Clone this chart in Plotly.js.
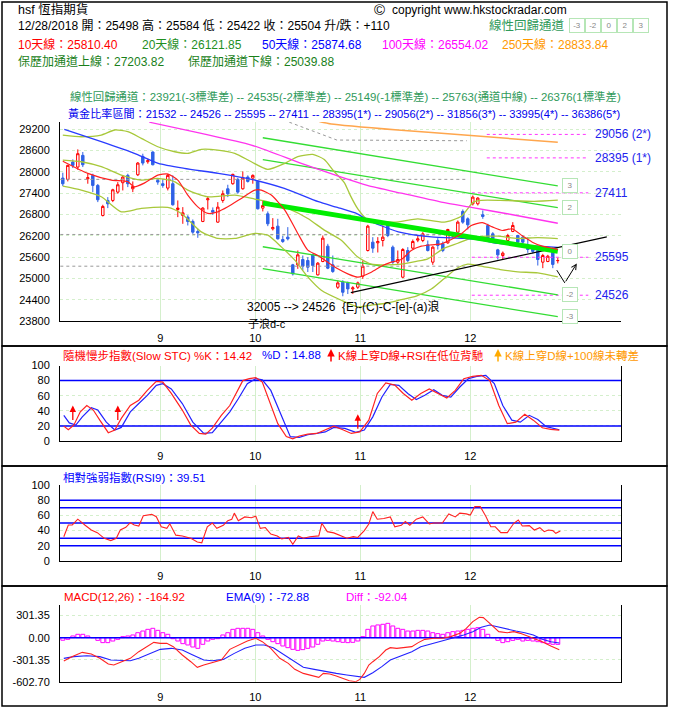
<!DOCTYPE html>
<html><head><meta charset="utf-8">
<script src="https://cdn.plot.ly/plotly-3.0.1.min.js"></script>
<style>html,body{margin:0;padding:0;background:#fff;} #chart{width:677px;height:717px;}</style>
</head><body><div id="chart"></div>
<script>
const FONT = "Liberation Sans, 'Noto Sans CJK TC', sans-serif";

// ---------- trading days (Aug 6 - Dec 28, 2018) ----------
const tradeDates = ['8/6','8/7','8/8','8/9','8/10','8/13','8/14','8/15','8/16','8/17','8/20','8/21','8/22','8/23','8/24','8/27','8/28','8/29','8/30','8/31',
'9/3','9/4','9/5','9/6','9/7','9/10','9/11','9/12','9/13','9/14','9/17','9/18','9/19','9/20','9/21','9/24','9/26','9/27','9/28',
'10/2','10/3','10/4','10/5','10/8','10/9','10/10','10/11','10/12','10/15','10/16','10/18','10/19','10/22','10/23','10/24','10/25','10/26','10/29','10/30','10/31',
'11/1','11/2','11/5','11/6','11/7','11/8','11/9','11/12','11/13','11/14','11/15','11/16','11/19','11/20','11/21','11/22','11/23','11/26','11/27','11/28','11/29','11/30',
'12/3','12/4','12/5','12/6','12/7','12/10','12/11','12/12','12/13','12/14','12/17','12/18','12/19','12/20','12/21','12/24','12/27','12/28'];

// ---------- OHLC ----------
const opens  = [27826,27789,28278,28137,28466,27808,27902,27619,26773,27196,27196,27431,27695,27902,27525,27920,28438,28287,28560,27761,
27667,27544,27667,26942,26773,26726,26604,26322,26604,27215,26914,26585,27196,27525,27667,27789,27525,27855,27826,27732,
26980,26820,26397,26472,26096,26162,25382,25382,25532,25504,25664,25100,25476,25908,25382,24751,24893,24874,24704,24751,
25062,25786,26021,26002,26068,26538,25880,25457,25034,25786,25852,26077,26068,25946,25457,26068,25974,26002,26190,26303,
26886,26679,27102,27102,26792,26491,26256,25805,25645,26068,26322,26209,26162,25880,25850,25786,25457,25476,25786,25498];
const highs  = [27977,28200,28353,28635,28560,27949,27949,27660,27074,27290,27525,27713,27902,27949,27732,28278,28513,28372,28580,27826,
27789,27949,27902,27196,27008,26780,26660,26397,27008,27318,27000,27149,27478,27638,27949,27830,28014,27902,27930,27760,
27196,26886,26698,26679,26200,26444,25410,25786,25645,25600,25700,25460,26209,25974,25645,24940,24950,24910,24780,24910,
25504,26510,26162,26162,26491,26604,25927,25786,25852,25880,26096,26200,26303,26068,25908,26134,26040,26397,26256,26632,
26942,26720,27337,27290,26914,26538,26303,25833,25758,26256,26585,26228,26209,26162,25920,25833,25692,25664,25880,25584];
const lows   = [27601,27732,28108,28061,28137,27667,27431,27149,26745,26980,27149,27384,27478,27572,27431,27883,28184,28231,28184,27638,
27554,27478,27050,26726,26538,26491,26256,26143,26585,26942,26792,26566,27130,27290,27640,27384,27500,27700,27667,26942,
26886,26472,26350,26096,26000,26070,25081,25269,25222,25180,25180,25081,25457,25260,25156,24704,24497,24560,24560,24704,
24987,25758,25720,25730,25900,26162,25410,25410,25006,25457,25814,26021,26021,25758,25382,25814,25739,25974,26150,26284,
26538,26378,27055,27055,26679,26068,26068,25532,25532,26021,26303,25974,25927,25720,25700,25363,25288,25457,25288,25422];
const closes = [27666,28184,28184,28513,28202,27836,27619,27215,27027,27102,27497,27638,27855,27667,27591,28249,28249,28315,28202,27714,
27619,27902,27074,26980,26848,26604,26303,26284,26980,27243,26867,27008,27384,27384,27930,27431,27826,27732,27902,26961,
27055,26538,26435,26115,26040,26115,25128,25664,25344,25316,25363,25429,26134,25288,25194,24874,24610,24704,24733,24874,
25344,26472,25852,26040,26162,26209,25457,25532,25814,25504,26040,26115,26256,25786,25880,25927,25786,26378,26228,26585,
26585,26510,27290,27262,26745,26115,26115,25664,25711,26209,26491,26021,26021,25814,25760,25532,25645,25626,25394,25504];
const netChange = '+110';

// ---------- header readings ----------
const maLabels = ['10天線','20天線','50天線','100天線','250天線'];
const maLast = ['25810.40','26121.85','25874.68','26554.02','28833.84'];
const bbLast = ['27203.82','25039.88'];
const regText = '線性回歸通道：23921(-3標準差) -- 24535(-2標準差) -- 25149(-1標準差) -- 25763(通道中線) -- 26376(1標準差)';
const goldText = '黃金比率區間：21532 -- 24526 -- 25595 -- 27411 -- 28395(1*) -- 29056(2*) -- 31856(3*) -- 33995(4*) -- 36386(5*)';

// ---------- moving averages (x = trading-day position) ----------
const ma10X = [0,5,9.7,13,14.3,16.3,19,21,23,25,27,29,31,33,35.7,38.4,39.7,41.7,44.4,47,49,51,53,55,57,59,61.7,63.7,65.7,67.7,69.7,71.7,73.7,75.7,77.7,79.7,81.7,83.9,85.9,87.9,89.9,91.9,93.9,95.9,97.9,99];
const ma10Y = [28300,27958,27770,27722,27581,27685,27911,27939,27770,27347,27016,26830,26876,27016,27253,27488,27488,27347,26924,26266,25795,25645,25457,25269,25128,25034,25175,25344,25457,25532,25786,25908,25946,25974,26096,26256,26491,26570,26450,26350,26397,26200,26021,25908,25852,25810];
const ma50X = [0.3,7.7,14.3,19.1,24.3,31.1,37.7,44.3,51.1,54.9,58.9,60.9,67.1,73.7,80.3,83.7,87.1,91.1,95.1,99];
const ma50Y = [29200,28850,28523,28241,28100,27959,27790,27536,27160,27000,26820,26650,26312,26170,26125,26077,25984,25936,25908,25875];
const ma100X = [17.3,27.7,37.7,47.7,55.7,60.9,67.7,75.7,81.7,89.7,99];
const ma100Y = [29400,29087,28757,28241,27850,27620,27400,27150,27000,26800,26554];
const ma250X = [51.3,53.7,67,80.3,99];
const ma250Y = [29420,29350,29180,29040,28834];

// ---------- Bollinger bands ----------
const bbUpX = [0,3.7,7.7,10.4,13,15.7,19,22.4,25,27.7,31,34.4,37.7,41,44.4,47,50,52.3,54.3,56.3,57.5,59,61,66.3,71,76.3,79.7,82.1,83.7,87.5,94.3,99];
const bbUpY = [29039,28991,29039,29180,29132,28946,28709,28568,28523,28636,28616,28523,28286,28072,28241,28430,28494,28350,28004,27700,27338,26958,26650,26585,26678,26585,26750,27150,27200,27200,27170,27204];
const bbMidX = [0,3.7,7.7,11.7,15.7,19,22.4,25,29,34.4,38.4,41,45,49,52.3,55.7,59,61.7,64.7,67.7,70.7,73,76.3,79,82,85,87,91,95,99];
const bbMidY = [28334,28286,28146,27911,27770,27817,27722,27488,27299,27347,27234,27158,26971,26689,26359,26077,25600,25400,25380,25400,25480,25550,25852,25990,26150,26190,26190,26125,26150,26122];
const bbLoX = [0,3.7,7.7,11.7,15.7,21,23.7,27.7,31,34.4,38.4,41,43.7,46.4,49,51.7,55.7,59,61.7,64.7,67.7,70.7,73.7,76.3,79,81,83,87.5,91,95,99];
const bbLoY = [27600,27488,27299,26876,26971,27000,26830,26311,26125,26125,26266,26218,25888,25513,25042,24667,24385,24200,24250,24300,24400,24500,24700,25000,25300,25400,25363,25250,25184,25155,25040];

// ---------- linear regression channel ----------
const chanX = [40, 99];
const chanMid = [27120, 25763];
const chanStd = 614;
const chanBands = [3, 2, -2, -3];
const chanEnds = [3, 2, 0, -2, -3];
const chanBoxText = ['3','2','0','-2','-3'];

// ---------- golden ratio levels ----------
const goldVals = [29056, 28395, 27411, 25595, 24526];
const goldLabels = ['29056 (2*)','28395 (1*)','27411','25595','24526'];
const goldStart = [84.8, 84.8, 81.8, 81.8, 81.8];
const goldEnd = 105.1;

// ---------- other guide lines ----------
const greyLevels = [27790, 26238, 25344];
const greyLevelX = [-0.5, 80.8];
const greyDiagX = [45.3, 54.8, 80.8];
const greyDiagY = [29400, 28898, 28878];
const trendX = [57.6, 108.8];
const trendY = [24600, 26170];
const vX = [98.8, 100.4, 102.8];
const vY = [25232, 24873, 25420];

// ---------- slow stochastic ----------
const kX = [0.2,1.1,2.2,3.5,4.8,6.1,7.4,9.1,10.4,11.7,13.5,15.2,16.9,18.7,20,21.7,23.9,25.6,27.3,28.6,29.9,31.7,33.4,34.7,36,37.3,38.6,39.9,41.2,43,44.7,46,47.3,49,50.8,52.5,54.2,56,57.7,59.4,61.2,62.9,64.6,66.4,68.1,69.8,71.6,73.3,75,76.8,78.5,80.2,82,83.7,85.4,87.2,88.9,90.6,92.4,94.1,95.9,97.6,99.3];
const kY = [19.7,15,21,38.6,47,41,27.6,11,14.5,30,47,54,67,79,78,63,41,21,10,9,17,34,47,63,80,82.5,84,78,54,23,6,3,6.6,9,10,14.5,19.7,15,10,12,27.6,63,77,74,63,54,63,69,63,57,67,82.5,85.5,87,80,47,23,25,35.5,27.6,17.5,15.4,14.42];
const dX = [0.2,1.3,2.6,3.9,5.7,7,8.7,10.4,11.7,13.5,15.2,16.9,18.7,20,21.7,23.9,26,28.2,29.9,31.7,33.4,35.1,36.9,38.6,39.9,41.6,43.8,45.5,47.3,49,50.8,52.5,54.2,56.4,58.6,60.3,62,63.8,65.5,67.2,69,70.7,72.4,74.2,75.9,77.6,79.4,81.1,82.8,84.6,86.3,88,89.8,91.5,93.3,95,96.7,99.3];
const dY = [34,24,21,32,44,41,25,14.5,18,38.6,49.6,60.5,73.7,76,69,49.6,25,10,11,25,38.6,56,76,82.5,81,67,32,5.7,4.8,8.3,10,12,18,16.7,11.4,14.5,32,58,75,73.7,63,55,60.5,68,60.5,58,71.5,82.5,85.5,87,76,47,27.6,25,34,28.5,19,14.88];
const stochArrowX = [2, 11, 59];
const stochArrowHead = [47, 47, 35.5];
const stochLevels = [20, 80];

// ---------- RSI(9) ----------
const rsiX = [0.2,1.1,1.9,3,4.4,5.7,6.9,8.3,9.6,10.7,11.5,12.6,13.5,14.3,15.2,16.1,17.8,18.7,19.7,20.8,21.4,22.6,23.9,25.6,26.9,27.8,28.9,29.9,30.8,32.1,33,33.8,34.3,35.1,36.4,37.7,38.6,39.5,40.5,41.6,42.9,43.8,45.1,46,47.1,48.1,49.4,51.2,51.8,52.9,54.2,55.5,56.8,58.1,59,60.3,61.2,62,62.9,64.2,65.5,66.4,67.7,68.5,69.4,70.7,72,73.3,74.2,75.9,77.2,78.5,79.4,80.7,81.5,82.4,83.5,84.6,85.6,86.5,87.6,88.9,90.2,91.1,91.9,93.3,94.3,95.4,96.3,97.1,98,98.6,99.5];
const rsiY = [32,47.4,47.4,55,47.4,40.8,37.3,29.8,26.8,29.8,40.8,44.3,50.4,47.4,46,59.6,61.4,58.3,45,43,49,34,33,30,25,24,45,50,43,47,53,55,63,53,58,57,59,43,44,35.5,33,29,31,22,33,30,32,33,49.6,38.6,37,33,30,32,31,40,48.7,65,55,56,58,45,47,52,47,55,58,48.7,50,50,62,58,63,62,60.5,71.5,71.5,59,45,45,37.3,37.3,49.6,54,46,46.5,40.8,43.9,38.6,40.8,40,36.4,39.51];
const rsiLevels = [20, 30, 50, 70, 80];

// ---------- MACD ----------
const macdX = [0.2,1.8,3.9,5.7,7.4,9.1,10.2,11.7,13.5,15.2,16.9,18.2,19.5,20.8,22.1,23.9,25.6,26.9,28.2,29.9,31.7,33.4,35.1,36.9,38.6,39.9,41.6,43.4,45.1,46.4,48.1,49.9,51.2,52.1,53.4,54.7,56,57.3,58.6,59.4,60.3,61.2,62,63.3,64.6,65.5,66.8,68.5,69.8,71.1,72.4,74.2,75.9,77.6,79.4,80.7,82,83.3,84.1,85.4,87.2,88.9,90.2,91.5,92.8,94.1,95.9,97.6,99.3];
const macdY = [-320,-260,-201,-224,-283,-361,-374,-329,-283,-192,-114,-64,-78,-78,-123,-237,-329,-406,-374,-342,-306,-160,-100,-46,-9,-55,-146,-283,-352,-434,-489,-525,-543,-489,-498,-525,-557,-589,-603,-571,-489,-374,-329,-260,-169,-137,-146,-137,-123,-68,-23,-9,-9,14,59,128,219,279,274,196,82,68,82,59,27,-9,-55,-114,-164.92];
const emaX = [0.2,2.2,4.8,7.4,9.6,11.7,13.5,15.2,17.4,19.5,21.7,23.9,26,28.2,29.9,32.1,34.3,36.4,38.6,40.3,42.1,43.8,46,48.1,50.3,52.5,54.7,56.8,59,60.3,62,63.8,65.5,67.7,69.8,71.6,73.3,75,76.8,78.5,80.2,82,83.7,85.4,87.2,88.9,90.6,92.4,94.1,95.9,97.6,99.3];
const emaY = [-283,-260,-247,-260,-306,-315,-315,-283,-215,-160,-146,-169,-237,-306,-315,-297,-215,-146,-100,-100,-137,-215,-315,-406,-434,-466,-489,-511,-534,-543,-479,-397,-306,-247,-192,-123,-91,-68,-32,5,37,82,142,174,142,114,91,68,37,-23,-55,-72.88];
const diffY = [-35,-23,23,46,46,23,0,-37,-68,-68,-46,-23,14,23,37,68,91,114,128,100,
68,46,-14,-46,-82,-100,-128,-146,-91,-46,-23,-14,37,68,114,128,128,128,114,68,
23,-23,-55,-82,-114,-137,-160,-174,-164,-146,-128,-91,-46,-37,-46,-55,-64,-68,-64,-46,
14,114,160,174,183,196,160,128,114,91,91,100,100,91,68,55,46,68,82,91,
100,114,128,137,114,46,0,-37,-68,-55,-37,-23,-46,-37,-46,-55,-68,-82,-91,-92.04];

// ---------- derived positions ----------
const dayPos = tradeDates.map((d, i) => i);
const monthTickPos = [], monthTickText = [];
tradeDates.forEach((d, i) => {
  if (i > 0 && d.split('/')[0] !== tradeDates[i-1].split('/')[0]) {
    monthTickPos.push(i - 0.5); monthTickText.push(d.split('/')[0]);
  }
});
const lastIdx = dayPos[dayPos.length - 1];

const W = 677, H = 717;
const px = x => x / W, py = y => 1 - y / H;
const xDom = [px(60), px(621)];
const xRange = [-0.56, 111.64];
const GRID = '#d4efcc';

function xa(anchor, standoff) {
  return {domain: xDom, range: xRange, anchor: anchor, tickmode: 'array', tickvals: monthTickPos, ticktext: monthTickText,
    showgrid: true, gridcolor: GRID, gridwidth: 1, showline: true, linecolor: '#000', linewidth: 1,
    zeroline: false, ticks: '', ticklabelstandoff: standoff, tickfont: {family: FONT, size: 11, color: '#000'},
    fixedrange: true, rangeslider: {visible: false}};
}
function ya(anchor, dom, range, tv, tt, mirror) {
  const o = {domain: dom, range: range, anchor: anchor, tickmode: 'array', tickvals: tv, tickformat: 'd',
    showgrid: true, gridcolor: GRID, griddash: 'dot', gridwidth: 1, showline: true, linecolor: '#000', linewidth: 1,
    mirror: mirror, zeroline: false, ticks: '', ticklabelstandoff: 7, tickfont: {family: FONT, size: 11, color: '#000'},
    fixedrange: true};
  if (tt) o.ticktext = tt; else o.ticktext = tv.map(v => String(v));
  return o;
}

const traces = [];
function line(x, y, color, width, dash, xa_, ya_, shape) {
  traces.push({type: 'scatter', mode: 'lines', x: x, y: y, xaxis: xa_ || 'x', yaxis: ya_ || 'y',
    line: {color: color, width: width, dash: dash || 'solid', shape: shape || 'linear', smoothing: 0.6},
    hoverinfo: 'skip', showlegend: false, cliponaxis: true});
}

// main panel guides
greyLevels.forEach(v => line(greyLevelX, [v, v], '#999999', 1, 'dot'));
line(greyDiagX, greyDiagY, '#999999', 1, 'dot');
goldVals.forEach((v, k) => line([goldStart[k], goldEnd], [v, v], '#ff33ff', 1, 'dot'));
chanBands.forEach(b => line(chanX, chanMid.map(m => m + b * chanStd), '#33dd33', 1.3));
line(bbUpX, bbUpY, '#a8c83a', 1.3, 'solid', 'x', 'y', 'spline');
line(bbMidX, bbMidY, '#a8c83a', 1.3, 'solid', 'x', 'y', 'spline');
line(bbLoX, bbLoY, '#a8c83a', 1.3, 'solid', 'x', 'y', 'spline');
line(ma250X, ma250Y, '#ffa64d', 1.5, 'solid', 'x', 'y', 'spline');
line(ma100X, ma100Y, '#ff33ee', 1.3, 'solid', 'x', 'y', 'spline');
line(ma50X, ma50Y, '#2a3cff', 1.3, 'solid', 'x', 'y', 'spline');
line(trendX, trendY, '#000000', 1.2);
line(vX.slice(0, 2), vY.slice(0, 2), '#000000', 1);
line(chanX, chanMid, '#00ee00', 5);
traces.push({type: 'candlestick', x: dayPos, open: opens, high: highs, low: lows, close: closes,
  xaxis: 'x', yaxis: 'y', whiskerwidth: 0,
  increasing: {line: {color: '#ff0000', width: 1}, fillcolor: '#ffffff'},
  decreasing: {line: {color: '#2f62e6', width: 1}, fillcolor: '#2f62e6'},
  hoverinfo: 'skip', showlegend: false});
line(ma10X, ma10Y, '#ff2020', 1.2, 'solid', 'x', 'y', 'spline');

// stochastic panel
stochLevels.forEach(v => line(xRange, [v, v], '#0000ff', 1.5, 'solid', 'x2', 'y2'));
line(dX, dY, '#2222ff', 1.2, 'solid', 'x2', 'y2');
line(kX, kY, '#ff2222', 1.2, 'solid', 'x2', 'y2');

// RSI panel
rsiLevels.forEach(v => line(xRange, [v, v], '#0000ff', 1.5, 'solid', 'x3', 'y3'));
line(rsiX, rsiY, '#ff2222', 1.1, 'solid', 'x3', 'y3');

// MACD panel
traces.push({type: 'bar', x: dayPos, y: diffY, xaxis: 'x4', yaxis: 'y4', width: 0.78,
  marker: {color: 'rgba(255,255,255,0)', line: {color: '#ff00ff', width: 1}}, hoverinfo: 'skip', showlegend: false});
line(xRange, [0, 0], '#0000ff', 1.5, 'solid', 'x4', 'y4');
line(emaX, emaY, '#2222ff', 1.1, 'solid', 'x4', 'y4');
line(macdX, macdY, '#ff2222', 1.1, 'solid', 'x4', 'y4');

// ---------- annotations ----------
const ann = [];
function T(text, x, y, color, size, anchor, extra) {
  ann.push(Object.assign({xref: 'paper', yref: 'paper', x: px(x), y: py(y), text: text, showarrow: false,
    xanchor: anchor || 'left', yanchor: 'middle', font: {family: FONT, size: size || 12, color: color || '#000'}}, extra || {}));
}
function box(xr, yr, x, y, t) {
  ann.push({xref: xr, yref: yr, x: x, y: y, text: t, showarrow: false, xanchor: 'center', yanchor: 'middle',
    font: {family: FONT, size: 8, color: '#888'}, bordercolor: '#b6e6b6', borderwidth: 1, borderpad: 0,
    width: 14, height: 13, bgcolor: '#fff'});
}
const openV = opens[lastIdx], highV = highs[lastIdx], lowV = lows[lastIdx], closeV = closes[lastIdx];
T('hsf 恆指期貨', 16, 9.5, '#000', 12.5);
T('©', 380, 9.5, '#000', 15, 'center');
T('copyright www.hkstockradar.com', 390, 10, '#000', 12);
T('12/28/2018 開：' + openV + ' 高：' + highV + ' 低：' + lowV + ' 收：' + closeV + ' 升/跌：' + netChange, 16, 26, '#000', 12);
T('線性回歸通道', 487, 26, '#2f9a5a', 12.5);
chanBoxText.slice().reverse().forEach((t, k) => box('paper', 'paper', px(577 + 16 * k), py(26), t));
const maColors = ['#ff0000', '#1f8f1f', '#0000ff', '#ff00ff', '#ff9900'];
const maPos = [16, 140, 260, 380, 500];
maLabels.forEach((l, k) => T(l + '：' + maLast[k], maPos[k], 44, maColors[k], 12));
T('保歷加通道上線：' + bbLast[0], 16, 61, '#1a7f1a', 12);
T('保歷加通道下線：' + bbLast[1], 186, 61, '#1a7f1a', 12);
T(regText, 68, 96, '#2f9a5a', 11.4);
T(goldText, 66, 113, '#0000ee', 11.1);

// right-side golden labels
goldVals.forEach((v, k) => ann.push({xref: 'x', yref: 'y', x: 106.1, y: v, text: goldLabels[k], showarrow: false,
  xanchor: 'left', yanchor: 'middle', font: {family: FONT, size: 12, color: '#2222ee'}}));
// channel end boxes
chanEnds.forEach((b, k) => box('x', 'y', 101.4, chanMid[1] + b * chanStd, chanBoxText[k]));
// V arrow last leg
ann.push({xref: 'x', yref: 'y', axref: 'x', ayref: 'y', x: vX[2], y: vY[2], ax: vX[1], ay: vY[1], text: '',
  showarrow: true, arrowhead: 5, arrowsize: 1, arrowwidth: 1, arrowcolor: '#000'});
T('32005 --> 24526  {E}-(C)-C-[e]-(a)浪', 245, 307, '#000', 12);
T('子浪d-c', 246, 323.5, '#000', 11);

// stochastic titles & arrows
T('隨機慢步指數(Slow STC) %K：' + kY[kY.length-1].toFixed(2), 61, 355, '#ff0000', 11.5);
T('%D：' + dY[dY.length-1].toFixed(2), 260, 355, '#0000ff', 11.5);
ann.push({xref: 'paper', yref: 'paper', x: px(331), y: py(349), ax: 0, ay: 14, text: '', showarrow: true,
  arrowhead: 2, arrowsize: 1, arrowwidth: 1.5, arrowcolor: '#ff0000'});
T('K線上穿D線+RSI在低位背馳', 336, 355, '#ff0000', 11.5);
ann.push({xref: 'paper', yref: 'paper', x: px(498), y: py(349), ax: 0, ay: 14, text: '', showarrow: true,
  arrowhead: 2, arrowsize: 1, arrowwidth: 1.5, arrowcolor: '#ffaa00'});
T('K線上穿D線+100線未轉差', 503, 355, '#ff9900', 11.5);
stochArrowX.forEach((x, k) => ann.push({xref: 'x2', yref: 'y2', x: x, y: stochArrowHead[k], ax: 0, ay: 16, text: '',
  showarrow: true, arrowhead: 2, arrowsize: 1, arrowwidth: 1.3, arrowcolor: '#ff0000'}));

T('相對強弱指數(RSI9)：' + rsiY[rsiY.length-1].toFixed(2), 61, 477, '#0000ff', 11.5);
T('MACD(12,26)：' + macdY[macdY.length-1].toFixed(2), 62, 597, '#ff0000', 11.5);
T('EMA(9)：' + emaY[emaY.length-1].toFixed(2), 224, 597, '#0000ff', 11.5);
T('Diff：' + diffY[diffY.length-1].toFixed(2), 344, 597, '#ff00ff', 11.5);

// panel frames
const frames = [[2, 2, 667, 346], [2, 346, 667, 466], [2, 466, 667, 586], [2, 586, 667, 706]];
const shapes = frames.map(f => ({type: 'rect', xref: 'paper', yref: 'paper', x0: px(f[0]), x1: px(f[2]), y0: py(f[3]), y1: py(f[1]),
  line: {color: '#000', width: 1.5}, fillcolor: 'rgba(0,0,0,0)'}));

const layout = {
  width: W, height: H, margin: {l: 0, r: 0, t: 0, b: 0}, paper_bgcolor: '#fff', plot_bgcolor: '#fff',
  showlegend: false, hovermode: false, dragmode: false,
  font: {family: FONT, size: 12, color: '#000'},
  xaxis: xa('y', 7), xaxis2: xa('y2', 5), xaxis3: xa('y3', 5), xaxis4: xa('y4', 5),
  yaxis: ya('x', [py(321), py(122)], [23800, 29406], [23800,24400,25000,25600,26200,26800,27400,28000,28600,29200], null, false),
  yaxis2: ya('x2', [py(441), py(365.5)], [0, 100], [0,20,40,60,80,100], null, true),
  yaxis3: ya('x3', [py(561), py(485)], [0, 100], [0,20,40,60,80,100], null, true),
  yaxis4: ya('x4', [py(681.7), py(605)], [-602.7, 447], [301.35, 0, -301.35, -602.7], ['301.35','0.00','-301.35','-602.70'], true),
  annotations: ann, shapes: shapes
};
Plotly.newPlot('chart', traces, layout, {staticPlot: true, displayModeBar: false});
</script></body></html>
